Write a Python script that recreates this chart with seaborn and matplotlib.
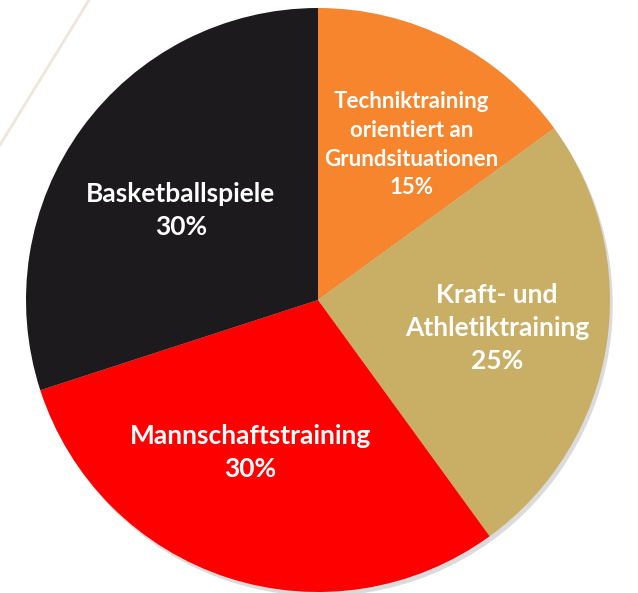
import matplotlib
matplotlib.use("Agg")
import numpy as np
import matplotlib.pyplot as plt
import seaborn as sns
from matplotlib.lines import Line2D

categories = [
    "Techniktraining\norientiert an\nGrundsituationen",
    "Kraft- und\nAthletiktraining",
    "Mannschaftstraining",
    "Basketballspiele",
]
shares = [15, 25, 30, 30]
colors = ["#F7852E", "#C8AF65", "#FF0000", "#1C1A1D"]
label_sizes = [16, 19, 19, 19]
# label placement: fraction of radius, angle shift (deg, clockwise) from wedge middle
label_dist = [0.62, 0.62, 0.57, 0.56]
label_shift = [4, 0, 6, -3]

sns.set_theme(style="white")
plt.rcParams["font.family"] = ["Lato", "DejaVu Sans"]

W, H = 638, 593
CX, CY, R = 318, H - 300, 292

fig = plt.figure(figsize=(W / 100, H / 100), dpi=100)
ax = fig.add_axes([0, 0, 1, 1])

# decorative thin line top-left
fig.add_artist(Line2D([0, 89 / W], [1 - 145 / H, 1], color="#EDE6DA", lw=2))

wedges, texts = ax.pie(
    shares,
    colors=colors,
    startangle=90,
    counterclock=False,
    center=(CX, CY),
    radius=R,
    labels=[f"{c}\n{s}%" for c, s in zip(categories, shares)],
    shadow={"ox": 2, "oy": -3, "facecolor": "0.45", "edgecolor": "0.45", "alpha": 0.25},
    wedgeprops={"linewidth": 0},
)
ax.set_xlim(0, W)
ax.set_ylim(0, H)
ax.set_aspect("equal")
ax.axis("off")

for w, t, size, d, sh in zip(wedges, texts, label_sizes, label_dist, label_shift):
    mid = np.deg2rad((w.theta1 + w.theta2) / 2 - sh)
    t.set_position((CX + d * R * np.cos(mid), CY + d * R * np.sin(mid)))
    t.set_ha("center")
    t.set_va("center")
    t.set_color("white")
    t.set_fontweight("bold")
    t.set_fontsize(size)
    t.set_linespacing(1.45)

fig.savefig("out.png", dpi=100)
